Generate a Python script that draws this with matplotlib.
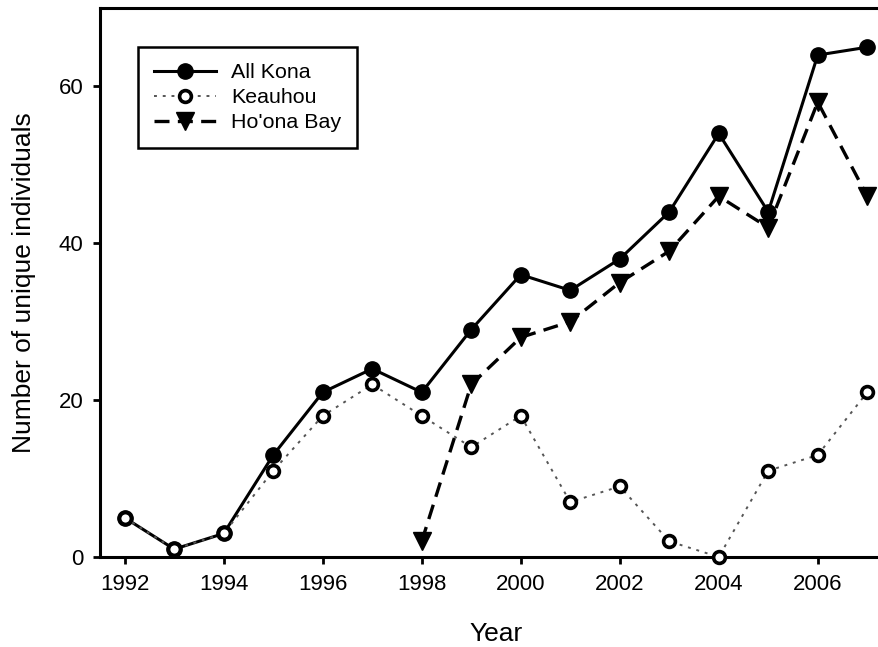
import matplotlib
matplotlib.use("Agg")
import matplotlib.pyplot as plt

plt.rcParams['font.family'] = ['Liberation Sans', 'DejaVu Sans']

years = list(range(1992, 2008))
all_kona = [5, 1, 3, 13, 21, 24, 21, 29, 36, 34, 38, 44, 54, 44, 64, 65]
keauhou = [5, 1, 3, 11, 18, 22, 18, 14, 18, 7, 9, 2, 0, 11, 13, 21]
hoona_years = list(range(1998, 2008))
hoona = [2, 22, 28, 30, 35, 39, 46, 42, 58, 46]

fig = plt.figure(figsize=(8.79, 6.47), dpi=100)
ax = fig.add_axes([100 / 879, 90 / 647, 792 / 879, 549 / 647])

ax.plot(years, all_kona, color='black', lw=2.2, marker='o', ms=11,
        mfc='black', mec='black', label='All Kona', clip_on=False, zorder=3)
ax.plot(years, keauhou, color='#555555', lw=1.4, ls=(0, (1.5, 3)), marker='o',
        ms=8.5, mfc='white', mec='black', mew=2.6, label='Keauhou',
        clip_on=False, zorder=4)
ax.plot(hoona_years, hoona, color='black', lw=2.4, ls=(0, (4.5, 2.5)),
        marker='v', ms=12.5, mfc='black', mec='black', label="Ho'ona Bay",
        clip_on=False, zorder=3)

ax.set_xlim(1991.5, 2007.5)
ax.set_ylim(0, 70)
ax.set_xticks(range(1992, 2008, 2))
ax.set_yticks([0, 20, 40, 60])

for s in ['left', 'bottom', 'top', 'right']:
    ax.spines[s].set_linewidth(2.2)
ax.tick_params(direction='out', length=5, width=2, labelsize=16, pad=7)

ax.set_xlabel('Year', fontsize=19, labelpad=20)
ax.set_ylabel('Number of unique individuals', fontsize=19, labelpad=16)

leg = ax.legend(loc='upper left', bbox_to_anchor=(0.048, 0.929),
                borderaxespad=0, fontsize=15.4, fancybox=False,
                edgecolor='black', handlelength=2.9, handletextpad=0.7,
                framealpha=1, borderpad=0.75, labelspacing=0.28)
leg.get_frame().set_linewidth(1.8)

fig.savefig('out.png', dpi=100)
